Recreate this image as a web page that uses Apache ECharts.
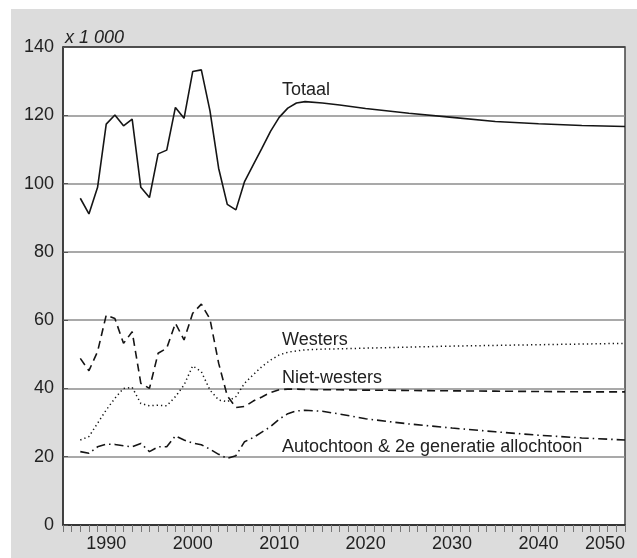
<!DOCTYPE html>
<html>
<head>
<meta charset="utf-8">
<script src="https://cdn.jsdelivr.net/npm/echarts@6/dist/echarts.min.js"></script>
<style>
html,body{margin:0;padding:0;background:#fff;}
#chart{width:637px;height:558px;}
</style>
</head>
<body>
<div id="chart"></div>
<script>
const years = [1987,1988,1989,1990,1991,1992,1993,1994,1995,1996,1997,1998,1999,2000,2001,2002,2003,2004,2005,2006,2007,2008,2009,2010,2011,2012,2013,2015,2017,2020,2025,2030,2035,2040,2045,2050];
const totaal = [95.7,91.1,98.9,117.4,120.1,116.9,118.9,98.9,95.9,108.7,109.8,122.3,119.1,132.8,133.3,121.3,104.5,93.9,92.3,100.6,105.5,110.3,115.3,119.4,122.1,123.6,124.0,123.6,123.0,122.0,120.6,119.4,118.2,117.5,117.0,116.7];
const nietWesters = [48.8,45.2,50.8,61.5,60.5,53.2,56.6,41.5,40.0,50.3,51.8,59.1,54.2,62.0,64.7,60.3,47.4,37.8,34.4,34.7,36.3,37.5,38.8,39.6,39.8,39.8,39.7,39.6,39.6,39.5,39.4,39.3,39.2,39.1,39.0,39.0];
const westers = [24.9,25.9,29.8,33.7,37.1,40.0,40.3,35.6,34.9,35.1,34.9,37.6,41.0,46.6,44.9,39.5,36.6,36.1,37.6,41.5,44.0,46.4,48.3,49.8,50.6,51.0,51.3,51.5,51.6,51.8,52.1,52.4,52.6,52.8,53.0,53.2];
const autochtoon = [21.5,21.0,22.9,23.7,23.6,23.2,22.9,23.9,21.5,22.9,22.9,26.1,24.9,24.0,23.5,22.2,20.7,19.5,20.3,24.4,25.6,27.2,28.8,31.0,32.6,33.4,33.6,33.3,32.5,31.1,29.6,28.4,27.3,26.3,25.5,24.9];
const seriesNames = ['Totaal','Westers','Niet-westers','Autochtoon & 2e generatie allochtoon'];
const unitLabel = 'x 1 000';

const FONT = "'Liberation Sans', Arial, sans-serif";
const LINE = '#151515';
function pairs(vals){ return years.map((y,i)=>[y, vals[i]]); }

const chart = echarts.init(document.getElementById('chart'), null, {renderer:'canvas'});
chart.setOption({
  animation:false,
  textStyle:{fontFamily:FONT},
  grid:{left:63,right:12,top:47,bottom:33,show:true,backgroundColor:'#ffffff',borderColor:'#444',borderWidth:1.5},
  xAxis:{
    type:'value',min:1985,max:2050,interval:1,
    axisLine:{show:true,lineStyle:{color:'#333',width:1.5}},
    axisTick:{show:true,length:7,lineStyle:{color:'#777',width:1}},
    splitLine:{show:false},
    axisLabel:{margin:10,fontSize:18,color:'#222',fontFamily:FONT,alignMaxLabel:'right',
      formatter:function(v){return v%10===0?String(v):'';}}
  },
  yAxis:{
    type:'value',min:0,max:140,interval:20,
    axisLine:{show:true,lineStyle:{color:'#333',width:1.5}},
    axisTick:{show:true,inside:true,length:5,lineStyle:{color:'#555'}},
    splitLine:{show:true,lineStyle:{color:['#333','#8c8c8c','#8c8c8c','#8c8c8c','#8c8c8c','#8c8c8c','#8c8c8c','#444'],width:1.5}},
    axisLabel:{margin:9,fontSize:18,color:'#222',fontFamily:FONT}
  },
  graphic:[
    {type:'rect',z:-100,silent:true,shape:{x:11,y:9,width:626,height:549},style:{fill:'#dcdcdc'}},
    {type:'text',z:10,left:65,top:29,style:{text:unitLabel,font:'italic 18px '+FONT,fill:'#222'}},
    {type:'text',z:10,left:282,top:81,style:{text:seriesNames[0],font:'18px '+FONT,fill:'#222'}},
    {type:'text',z:10,left:282,top:331,style:{text:seriesNames[1],font:'18px '+FONT,fill:'#222'}},
    {type:'text',z:10,left:282,top:369,style:{text:seriesNames[2],font:'18px '+FONT,fill:'#222'}},
    {type:'text',z:10,left:282,top:438,style:{text:seriesNames[3],font:'18px '+FONT,fill:'#222'}}
  ],
  series:[
    {name:seriesNames[0],type:'line',data:pairs(totaal),showSymbol:false,lineStyle:{color:LINE,width:1.6}},
    {name:seriesNames[1],type:'line',data:pairs(westers),showSymbol:false,lineStyle:{color:LINE,width:1.5,type:[1.3,3]}},
    {name:seriesNames[2],type:'line',data:pairs(nietWesters),showSymbol:false,lineStyle:{color:LINE,width:1.6,type:[8,5]}},
    {name:seriesNames[3],type:'line',data:pairs(autochtoon),showSymbol:false,lineStyle:{color:LINE,width:1.6,type:[9,4,1.5,4]}}
  ]
});
</script>
</body>
</html>
